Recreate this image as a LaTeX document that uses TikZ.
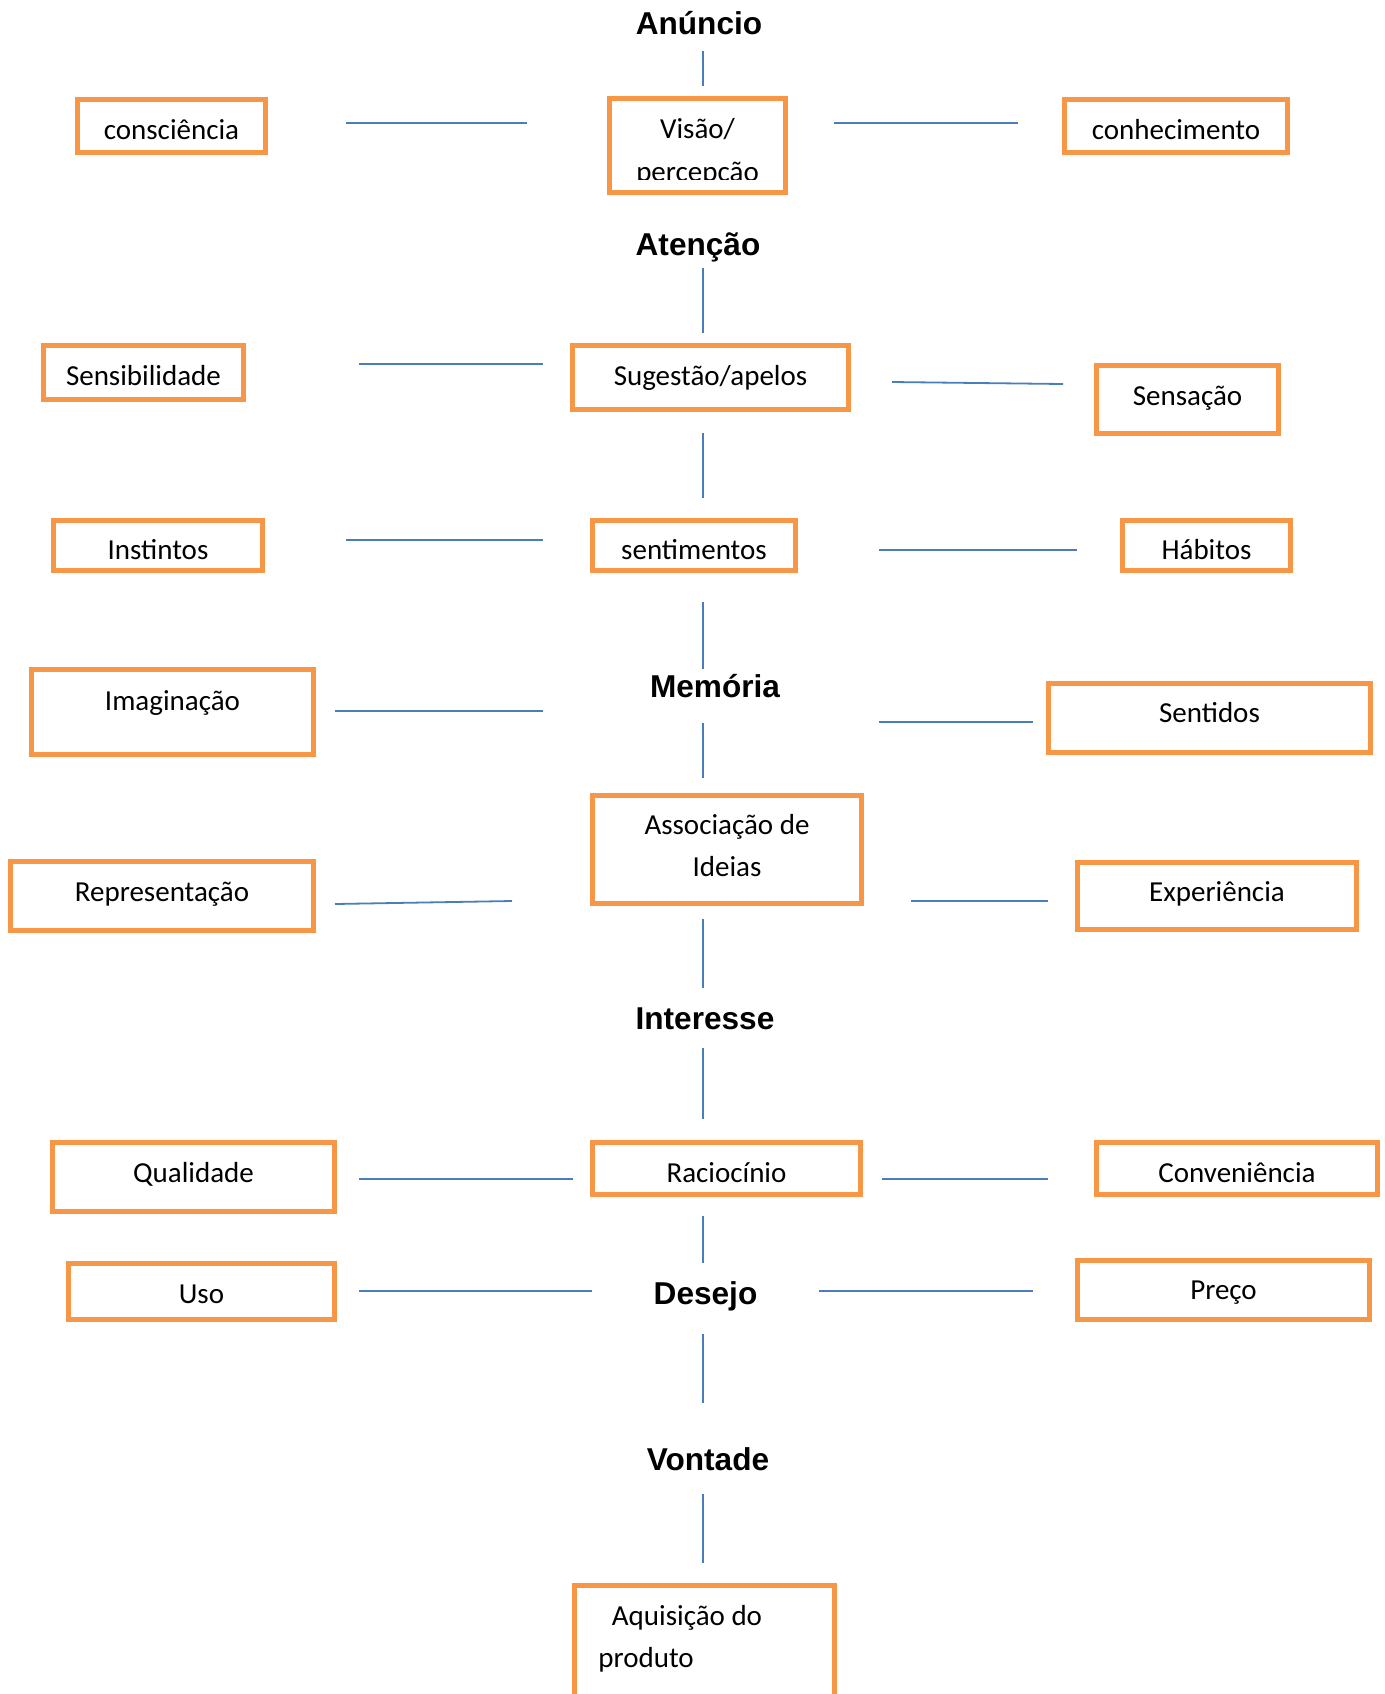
\documentclass[tikz,border=0pt]{standalone}
\usepackage{fontspec}
\setmainfont{Carlito}
\newfontfamily\hdfont{Liberation Sans}
\definecolor{boxor}{HTML}{F79646}
\definecolor{lnblue}{HTML}{4A7EBB}
\tikzset{
 box/.style={draw=boxor, line width=2.5pt, inner sep=0pt, rectangle},
 txt/.style={anchor=base, inner sep=0pt, font=\fontsize{14.5pt}{17pt}\selectfont},
 hd/.style={anchor=base, inner sep=0pt, font=\hdfont\bfseries\fontsize{15.8pt}{18pt}\selectfont},
 ln/.style={draw=lnblue, line width=0.9pt},
}
\newcommand\mkbox[5]{\node[box, minimum width={(#4-#2-5)*0.5pt}, minimum height={(#5-#3-5)*0.5pt}] (#1) at ({(#2+#4)/2},{(#3+#5)/2}) {};}
\newcommand\mkline[5]{\coordinate (#1a) at (#2,#3); \coordinate (#1b) at (#4,#5); \draw[ln] (#1a) -- (#1b);}
\newcommand\mkv[3]{\mkline{#1}{703}{#2}{703}{#3}}
\begin{document}
\begin{tikzpicture}[x=0.5pt,y=-0.5pt]
\useasboundingbox (0,0) rectangle (1385,1694);
% boxes
\mkbox{consc}{75}{97}{268}{155}
\mkbox{visao}{607}{96}{788}{195}
\mkbox{conhec}{1062}{97}{1290}{155}
\mkbox{sensib}{41}{343}{246}{402}
\mkbox{suges}{570}{343}{851}{412}
\mkbox{sensac}{1094}{363}{1281}{436}
\mkbox{instin}{51}{518}{265}{573}
\mkbox{sentim}{590}{518}{798}{573}
\mkbox{habit}{1120}{518}{1293}{573}
\mkbox{imag}{29}{667}{316}{757}
\mkbox{sentid}{1046}{681}{1373}{755}
\mkbox{assoc}{590}{793}{864}{906}
\mkbox{repres}{8}{859}{316}{933}
\mkbox{exper}{1075}{860}{1359}{932}
\mkbox{qual}{50}{1140}{337}{1214}
\mkbox{racio}{590}{1140}{863}{1197}
\mkbox{conven}{1094}{1140}{1380}{1197}
\mkbox{uso}{66}{1261}{337}{1322}
\mkbox{preco}{1075}{1258}{1372}{1322}
\begin{scope}
\clip (0,0) rectangle (1385,1694);
\mkbox{aquis}{572}{1583}{837}{1730}
\end{scope}
% box texts
\node[txt] (tconsc) at (171.5,139) {consciência};
\begin{scope}
\clip (609,98) rectangle (786,179.5);
\node[txt] (tvisao1) at (697.5,138.5) {Visão/};
\node[txt] (tvisao2) at (697.5,181) {percepção};
\end{scope}
\node[txt] (tconhec) at (1176,139) {conhecimento};
\node[txt] (tsensib) at (143.5,385.5) {Sensibilidade};
\node[txt] (tsuges) at (710.5,385.5) {Sugestão/apelos};
\node[txt] (tsensac) at (1187.5,405.5) {Sensação};
\node[txt] (tinstin) at (158,559.5) {Instintos};
\node[txt] (tsentim) at (694,559.5) {sentimentos};
\node[txt] (thabit) at (1206.5,559.5) {Hábitos};
\node[txt] (timag) at (172.5,710) {Imaginação};
\node[txt] (tsentid) at (1209.5,722.5) {Sentidos};
\node[txt] (tassoc1) at (727,834.5) {Associação de};
\node[txt] (tassoc2) at (727,876.5) {Ideias};
\node[txt] (trepres) at (162,901.5) {Representação};
\node[txt] (texper) at (1217,901.5) {Experiência};
\node[txt] (tqual) at (193.5,1182.5) {Qualidade};
\node[txt] (tracio) at (726.5,1182.5) {Raciocínio};
\node[txt] (tconven) at (1237,1182.5) {Conveniência};
\node[txt] (tuso) at (201.5,1303.5) {Uso};
\node[txt] (tpreco) at (1223.5,1299.5) {Preço};
\node[txt, anchor=base west] (taquis1) at (611.5,1625.5) {Aquisição do};
\node[txt, anchor=base west] (taquis2) at (598,1667.5) {produto};
% headings
\node[hd] (anuncio) at (699,34) {Anúncio};
\node[hd] (atencao) at (698,255) {Atenção};
\node[hd] (memoria) at (715,697) {Memória};
\node[hd] (interesse) at (705,1029) {Interesse};
\node[hd] (desejo) at (705.5,1304) {Desejo};
\node[hd] (vontade) at (708,1470) {Vontade};
% vertical lines
\mkv{v1}{51}{86}
\mkv{v2}{268}{333}
\mkv{v3}{433}{498}
\mkv{v4}{602}{669}
\mkv{v5}{723}{778}
\mkv{v6}{919}{988}
\mkv{v7}{1048}{1119}
\mkv{v8}{1216}{1263}
\mkv{v9}{1334}{1403}
\mkv{v10}{1494}{1563}
% horizontal lines
\mkline{h1}{346}{123}{527}{123}
\mkline{h2}{834}{123}{1018}{123}
\mkline{h3}{359}{364}{543}{364}
\mkline{h4}{892}{382}{1063}{384}
\mkline{h5}{346}{540}{543}{540}
\mkline{h6}{879}{550}{1077}{550}
\mkline{h7}{335}{711}{543}{711}
\mkline{h8}{879}{722}{1033}{722}
\mkline{h9}{335}{904}{512}{901}
\mkline{h10}{911}{901}{1048}{901}
\mkline{h11}{359}{1179}{573}{1179}
\mkline{h12}{882}{1179}{1048}{1179}
\mkline{h13}{359}{1291}{592}{1291}
\mkline{h14}{819}{1291}{1033}{1291}
\end{tikzpicture}
\end{document}
